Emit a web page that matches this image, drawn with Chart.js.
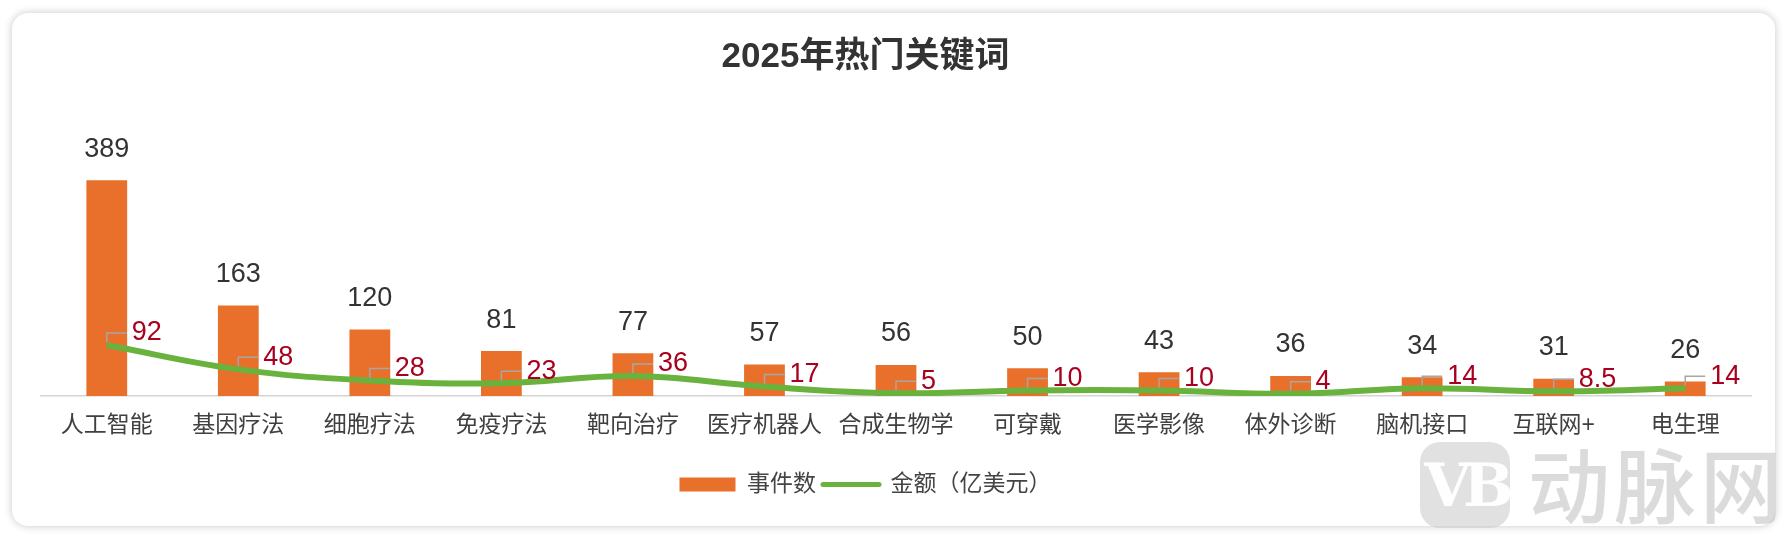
<!DOCTYPE html>
<html>
<head>
<meta charset="utf-8">
<script src="https://cdn.jsdelivr.net/npm/chart.js@4.4.1/dist/chart.umd.min.js"></script>
<style>
    html, body { margin: 0; padding: 0; background: #fff; overflow: hidden; }
    body { width: 1788px; height: 540px; position: relative; }
    .card {
        position: absolute; left: 12px; top: 13px; width: 1763px; height: 513px;
        border-radius: 16px; background: #fff;
        box-shadow: 0 0 9px rgba(0, 0, 0, 0.22);
    }
    #wrap { position: absolute; left: -20px; top: 0; width: 1808px; height: 540px; }
    .wm-logo {
        position: absolute; left: 1420px; top: 442px; width: 90px; height: 86px;
        border-radius: 20px; background: rgba(200, 200, 200, 0.55);
        color: rgba(255, 255, 255, 0.95); font: bold 60px "DejaVu Serif", serif;
        text-align: center; line-height: 86px; letter-spacing: -8px;
    }
    .wm-text {
        position: absolute; left: 1528px; top: 432px; color: rgba(195, 195, 195, 0.6);
        font: 500 82px "Noto Sans CJK SC", sans-serif; letter-spacing: 4px; line-height: 100px;
    }
</style>
</head>
<body>
<div class="card"></div>
<div id="wrap"><canvas id="keywordsChart"></canvas></div>
<div class="wm-logo">VB</div>
<div class="wm-text">动脉网</div>
<script>
const categories = ['人工智能', '基因疗法', '细胞疗法', '免疫疗法', '靶向治疗', '医疗机器人', '合成生物学', '可穿戴', '医学影像', '体外诊断', '脑机接口', '互联网+', '电生理'];
const eventCounts = [389, 163, 120, 81, 77, 57, 56, 50, 43, 36, 34, 31, 26];
const amounts = [92, 48, 28, 23, 36, 17, 5, 10, 10, 4, 14, 8.5, 14];

const ORANGE = '#E8702A';
const GREEN = '#6AB23E';
const RED = '#A8001E';
const FONT = '"Liberation Sans", "Noto Sans CJK SC", sans-serif';

// value labels: dark numbers above bars, red callouts beside the line
const valueLabels = {
    id: 'valueLabels',
    afterDatasetsDraw(chart) {
        const ctx = chart.ctx;
        ctx.save();
        ctx.font = '27px ' + FONT;
        ctx.textBaseline = 'middle';

        const barMeta = chart.getDatasetMeta(1);
        ctx.fillStyle = '#333';
        ctx.textAlign = 'center';
        barMeta.data.forEach((bar, i) => {
            ctx.fillText(String(eventCounts[i]), bar.x, bar.y - 31);
        });

        const lineMeta = chart.getDatasetMeta(0);
        lineMeta.data.forEach((pt, i) => {
            ctx.strokeStyle = '#a6a6a6';
            ctx.lineWidth = 1.5;
            ctx.beginPath();
            ctx.moveTo(pt.x, pt.y - 3);
            ctx.lineTo(pt.x, pt.y - 12);
            ctx.lineTo(pt.x + 20, pt.y - 12);
            ctx.stroke();
            ctx.fillStyle = RED;
            ctx.textAlign = 'left';
            ctx.fillText(String(amounts[i]), pt.x + 25, pt.y - 12);
        });
        ctx.restore();
    }
};

new Chart(document.getElementById('keywordsChart').getContext('2d'), {
    type: 'bar',
    data: {
        labels: categories,
        datasets: [
            {
                type: 'line',
                label: '金额（亿美元）',
                data: amounts,
                borderColor: GREEN,
                backgroundColor: GREEN,
                borderWidth: 6,
                pointRadius: 0,
                tension: 0.4,
                order: 0,
            },
            {
                label: '事件数',
                data: eventCounts,
                backgroundColor: ORANGE,
                barPercentage: 0.31,
                categoryPercentage: 1,
                order: 1,
            },
        ],
    },
    options: {
        responsive: true,
        maintainAspectRatio: false,
        animation: false,
        layout: { padding: { left: 0, right: 37, top: 0, bottom: 34 } },
        plugins: {
            title: {
                display: true,
                text: '2025年热门关键词',
                color: '#333',
                font: { family: FONT, size: 35, weight: 'bold', lineHeight: 1.2 },
                padding: { top: 36, bottom: 85 },
            },
            legend: {
                position: 'bottom',
                labels: {
                    usePointStyle: true,
                    pointStyleWidth: 56,
                    boxHeight: 14,
                    padding: 7,
                    color: '#444',
                    font: { family: FONT, size: 23 },
                    sort: (a, b) => b.datasetIndex - a.datasetIndex,
                    generateLabels(chart) {
                        const items = Chart.defaults.plugins.legend.labels.generateLabels(chart);
                        items.forEach(item => {
                            if (item.datasetIndex === 0) {
                                item.pointStyle = 'line';
                                item.lineWidth = 5;
                                item.lineCap = 'round';
                                item.strokeStyle = GREEN;
                            } else {
                                item.pointStyle = 'rect';
                                item.lineWidth = 0;
                            }
                        });
                        return items;
                    },
                },
            },
            tooltip: { enabled: false },
        },
        scales: {
            x: {
                grid: { display: false, drawTicks: false },
                border: { display: true, color: '#d4d4d4', width: 1.5 },
                ticks: {
                    color: '#404040',
                    padding: 16,
                    maxRotation: 0,
                    autoSkip: false,
                    font: { family: FONT, size: 23 },
                },
                afterFit(scale) { scale.height = 70; },
            },
            y: {
                min: 0,
                max: 420,
                grid: { display: false, drawTicks: false },
                border: { display: false },
                ticks: { display: false },
                afterFit(scale) { scale.width = 61; },
            },
        },
    },
    plugins: [valueLabels],
});
</script>
</body>
</html>
